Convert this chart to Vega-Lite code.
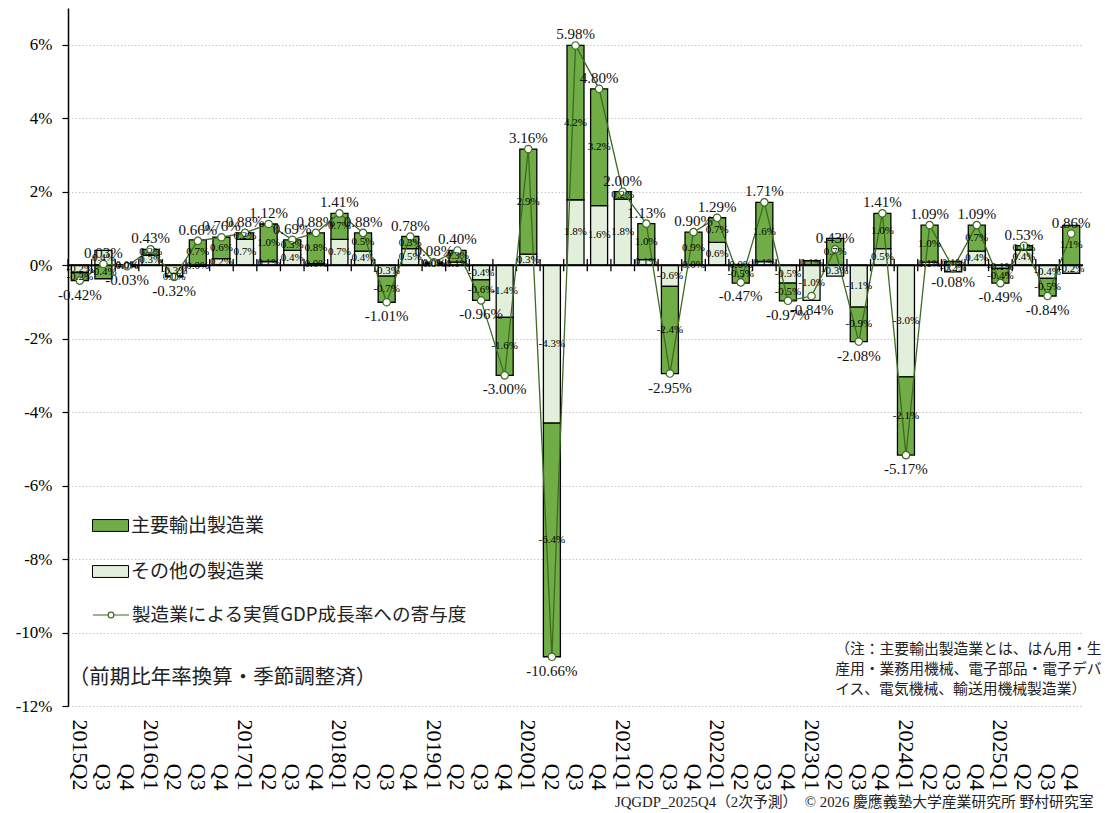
{
  "$schema": "https://vega.github.io/schema/vega-lite/v6.json",
  "width": 1015,
  "height": 698,
  "autosize": {"type": "none"},
  "padding": {"left": 68, "top": 8, "right": 22, "bottom": 107},
  "background": "white",
  "config": {"view": {"stroke": null}, "font": "Liberation Serif"},
  "title": {
    "text": "JQGDP_2025Q4（2次予測）　© 2026 慶應義塾大学産業研究所 野村研究室",
    "orient": "bottom", "anchor": "end", "fontSize": 14.8, "fontWeight": "normal",
    "font": "Liberation Serif, Noto Sans CJK JP", "offset": 5, "dx": -8, "color": "#222"
  },
  "data": {"values": [
    {"q":"2015Q2","その他の製造業":-0.20,"主要輸出製造業":-0.22},
    {"q":"2015Q3","その他の製造業":0.40,"主要輸出製造業":-0.37},
    {"q":"2015Q4","その他の製造業":0.01,"主要輸出製造業":-0.04},
    {"q":"2016Q1","その他の製造業":0.27,"主要輸出製造業":0.16},
    {"q":"2016Q2","その他の製造業":-0.30,"主要輸出製造業":-0.02},
    {"q":"2016Q3","その他の製造業":-0.03,"主要輸出製造業":0.69},
    {"q":"2016Q4","その他の製造業":0.18,"主要輸出製造業":0.58},
    {"q":"2017Q1","その他の製造業":0.70,"主要輸出製造業":0.18},
    {"q":"2017Q2","その他の製造業":0.10,"主要輸出製造業":1.02},
    {"q":"2017Q3","その他の製造業":0.40,"主要輸出製造業":0.29},
    {"q":"2017Q4","その他の製造業":0.04,"主要輸出製造業":0.84},
    {"q":"2018Q1","その他の製造業":0.70,"主要輸出製造業":0.71},
    {"q":"2018Q2","その他の製造業":0.38,"主要輸出製造業":0.50},
    {"q":"2018Q3","その他の製造業":-0.30,"主要輸出製造業":-0.71},
    {"q":"2018Q4","その他の製造業":0.45,"主要輸出製造業":0.33},
    {"q":"2019Q1","その他の製造業":0.04,"主要輸出製造業":0.04},
    {"q":"2019Q2","その他の製造業":0.08,"主要輸出製造業":0.32},
    {"q":"2019Q3","その他の製造業":-0.40,"主要輸出製造業":-0.56},
    {"q":"2019Q4","その他の製造業":-1.42,"主要輸出製造業":-1.58},
    {"q":"2020Q1","その他の製造業":0.30,"主要輸出製造業":2.86},
    {"q":"2020Q2","その他の製造業":-4.30,"主要輸出製造業":-6.36},
    {"q":"2020Q3","その他の製造業":1.78,"主要輸出製造業":4.20},
    {"q":"2020Q4","その他の製造業":1.62,"主要輸出製造業":3.18},
    {"q":"2021Q1","その他の製造業":1.80,"主要輸出製造業":0.20},
    {"q":"2021Q2","その他の製造業":0.15,"主要輸出製造業":0.98},
    {"q":"2021Q3","その他の製造業":-0.58,"主要輸出製造業":-2.37},
    {"q":"2021Q4","その他の製造業":0.01,"主要輸出製造業":0.89},
    {"q":"2022Q1","その他の製造業":0.62,"主要輸出製造業":0.67},
    {"q":"2022Q2","その他の製造業":0.02,"主要輸出製造業":-0.49},
    {"q":"2022Q3","その他の製造業":0.10,"主要輸出製造業":1.61},
    {"q":"2022Q4","その他の製造業":-0.49,"主要輸出製造業":-0.48},
    {"q":"2023Q1","その他の製造業":-0.96,"主要輸出製造業":0.12},
    {"q":"2023Q2","その他の製造業":-0.30,"主要輸出製造業":0.73},
    {"q":"2023Q3","その他の製造業":-1.14,"主要輸出製造業":-0.94},
    {"q":"2023Q4","その他の製造業":0.45,"主要輸出製造業":0.96},
    {"q":"2024Q1","その他の製造業":-3.04,"主要輸出製造業":-2.13},
    {"q":"2024Q2","その他の製造業":0.08,"主要輸出製造業":1.01},
    {"q":"2024Q3","その他の製造業":-0.18,"主要輸出製造業":0.10},
    {"q":"2024Q4","その他の製造業":0.38,"主要輸出製造業":0.71},
    {"q":"2025Q1","その他の製造業":-0.09,"主要輸出製造業":-0.40},
    {"q":"2025Q2","その他の製造業":0.42,"主要輸出製造業":0.11},
    {"q":"2025Q3","その他の製造業":-0.36,"主要輸出製造業":-0.48},
    {"q":"2025Q4","その他の製造業":-0.22,"主要輸出製造業":1.08}
  ]},
  "layer": [
    {
      "transform": [
        {"fold": ["その他の製造業", "主要輸出製造業"], "as": ["s", "v"]},
        {"stack": "v", "groupby": ["q"], "sort": [{"field": "s", "order": "ascending"}], "as": ["v0", "v1"], "offset": "zero"}
      ],
      "mark": {"type": "bar", "width": {"band": 0.72}, "stroke": "black", "strokeWidth": 1.3},
      "encoding": {
        "x": {
          "field": "q", "type": "ordinal",
          "scale": {"type": "band", "paddingInner": 0, "paddingOuter": 0},
          "axis": {
            "orient": "bottom", "domain": false, "ticks": false, "grid": false, "title": null,
            "labelAngle": 90, "labelAlign": "right", "labelBaseline": "middle", "labelPadding": 84,
            "labelFontSize": 22, "labelFont": "Liberation Serif", "labelColor": "#000", "labelOverlap": false,
            "labelExpr": "datum.value == '2015Q2' || slice(datum.value, 4) == 'Q1' ? datum.value : slice(datum.value, 4)"
          }
        },
        "y": {
          "field": "v0", "type": "quantitative",
          "scale": {"domain": [-12, 7], "nice": false, "zero": false},
          "axis": {
            "orient": "left", "values": [-12, -10, -8, -6, -4, -2, 0, 2, 4, 6],
            "labelExpr": "datum.value + '%'", "title": null,
            "domain": true, "domainColor": "black", "domainWidth": 1.5,
            "ticks": true, "tickColor": "black", "tickSize": 6, "tickWidth": 1.2,
            "labelPadding": 10, "labelFontSize": 17, "labelFont": "Liberation Serif", "labelColor": "#000",
            "grid": true, "gridColor": "#c8c8c8", "gridDash": [1.5, 2], "gridWidth": 1
          }
        },
        "y2": {"field": "v1"},
        "fill": {
          "field": "s", "type": "nominal",
          "scale": {"domain": ["主要輸出製造業", "その他の製造業"], "range": ["#70AD47", "#E2EFDA"]},
          "legend": {
            "orient": "none", "legendX": 24, "legendY": 499, "direction": "vertical", "title": null,
            "symbolType": "M-1,-0.33H1V0.33H-1Z", "symbolSize": 1296,
            "symbolStrokeColor": "black", "symbolStrokeWidth": 1,
            "labelFont": "Noto Sans CJK JP", "labelFontSize": 19, "labelColor": "#222", "labelLimit": 600,
            "labelOffset": 2, "rowPadding": 17, "padding": 0
          }
        }
      }
    },
    {
      "data": {"values": [{}]},
      "mark": {"type": "rule", "stroke": "black", "strokeWidth": 2},
      "encoding": {
        "y": {"datum": 0, "type": "quantitative"}
      }
    },
    {
      "mark": {"type": "rule", "stroke": "black", "strokeWidth": 1.3},
      "encoding": {
        "x": {"field": "q", "type": "ordinal", "bandPosition": 0},
        "y": {"datum": 0.165, "type": "quantitative"},
        "y2": {"datum": -0.165}
      }
    },
    {
      "transform": [
        {"fold": ["その他の製造業", "主要輸出製造業"], "as": ["s", "v"]},
        {"aggregate": [{"op": "sum", "field": "v", "as": "t"}], "groupby": ["q"]}
      ],
      "mark": {"type": "line", "strokeWidth": 1.3},
      "encoding": {
        "x": {"field": "q", "type": "ordinal"},
        "y": {"field": "t", "type": "quantitative"},
        "stroke": {
          "datum": "製造業による実質GDP成長率への寄与度", "type": "nominal",
          "scale": {"range": ["#3d6b21"]},
          "legend": {
            "orient": "none", "legendX": 24, "legendY": 588, "direction": "vertical", "title": null,
            "symbolType": "M-1,0H-0.16M0.16,0H1M0.16,0A0.16,0.16 0 1 1 -0.16,0A0.16,0.16 0 1 1 0.16,0",
            "symbolSize": 1296, "symbolStrokeWidth": 1.2,
            "labelFont": "Noto Sans CJK JP", "labelFontSize": 18.6, "labelColor": "#222", "labelLimit": 600,
            "labelOffset": 2, "padding": 0,
            "encode": {"symbols": {"update": {"fill": {"value": "white"}, "stroke": {"value": "#3d6b21"}, "strokeWidth": {"value": 1.2}}}}
          }
        }
      }
    },
    {
      "transform": [
        {"fold": ["その他の製造業", "主要輸出製造業"], "as": ["s", "v"]},
        {"aggregate": [{"op": "sum", "field": "v", "as": "t"}], "groupby": ["q"]}
      ],
      "mark": {"type": "point", "filled": true, "fill": "white", "stroke": "#3d6b21", "strokeWidth": 1.2, "size": 55, "opacity": 1},
      "encoding": {
        "x": {"field": "q", "type": "ordinal"},
        "y": {"field": "t", "type": "quantitative"}
      }
    },
    {
      "transform": [
        {"fold": ["その他の製造業", "主要輸出製造業"], "as": ["s", "v"]},
        {"stack": "v", "groupby": ["q"], "sort": [{"field": "s", "order": "ascending"}], "as": ["v0", "v1"], "offset": "zero"},
        {"calculate": "(datum.v0 + datum.v1) / 2", "as": "m"},
        {"calculate": "replace(format(datum.v, '.1f'), '\u2212', '-') + '%'", "as": "lab"}
      ],
      "mark": {"type": "text", "font": "Liberation Serif", "fontSize": 11, "color": "#000", "baseline": "middle", "align": "center"},
      "encoding": {
        "x": {"field": "q", "type": "ordinal"},
        "y": {"field": "m", "type": "quantitative"},
        "text": {"field": "lab"}
      }
    },
    {
      "transform": [
        {"fold": ["その他の製造業", "主要輸出製造業"], "as": ["s", "v"]},
        {"aggregate": [{"op": "sum", "field": "v", "as": "t"}], "groupby": ["q"]},
        {"filter": "datum.t >= 0"},
        {"calculate": "replace(format(datum.t, '.2f'), '\u2212', '-') + '%'", "as": "lab"}
      ],
      "mark": {"type": "text", "font": "Liberation Serif", "fontSize": 15, "color": "#111", "baseline": "middle", "align": "center", "dy": -11},
      "encoding": {
        "x": {"field": "q", "type": "ordinal"},
        "y": {"field": "t", "type": "quantitative"},
        "text": {"field": "lab"}
      }
    },
    {
      "transform": [
        {"fold": ["その他の製造業", "主要輸出製造業"], "as": ["s", "v"]},
        {"aggregate": [{"op": "sum", "field": "v", "as": "t"}], "groupby": ["q"]},
        {"filter": "datum.t < 0"},
        {"calculate": "replace(format(datum.t, '.2f'), '\u2212', '-') + '%'", "as": "lab"}
      ],
      "mark": {"type": "text", "font": "Liberation Serif", "fontSize": 15, "color": "#111", "baseline": "middle", "align": "center", "dy": 14},
      "encoding": {
        "x": {"field": "q", "type": "ordinal"},
        "y": {"field": "t", "type": "quantitative"},
        "text": {"field": "lab"}
      }
    },
    {
      "data": {"values": [{}]},
      "mark": {"type": "text", "font": "Noto Sans CJK JP", "fontSize": 20.5, "color": "#222", "align": "left", "baseline": "middle", "dx": -11},
      "encoding": {
        "x": {"datum": "2015Q2", "type": "ordinal"},
        "y": {"datum": -11.25, "type": "quantitative"},
        "text": {"value": "（前期比年率換算・季節調整済）"}
      }
    },
    {
      "data": {"values": [{}]},
      "mark": {"type": "text", "font": "Noto Sans CJK JP", "fontSize": 14.8, "color": "#222", "align": "left", "baseline": "top", "lineBreak": "\n", "lineHeight": 20},
      "encoding": {
        "x": {"datum": "2023Q2", "type": "ordinal"},
        "y": {"datum": -10.26, "type": "quantitative"},
        "text": {"value": "（注：主要輸出製造業とは、はん用・生\n産用・業務用機械、電子部品・電子デバ\nイス、電気機械、輸送用機械製造業）"}
      }
    }
  ]
}
